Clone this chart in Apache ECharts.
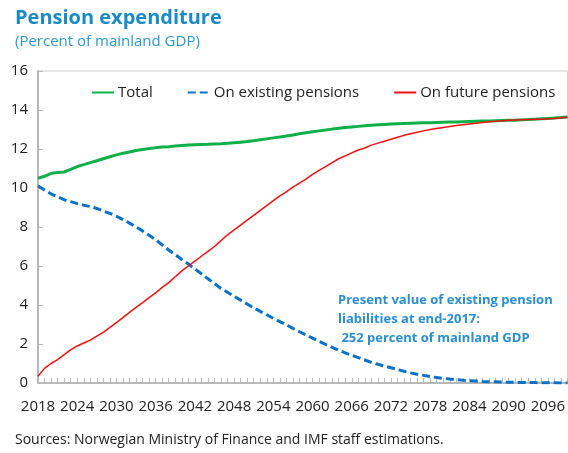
<!DOCTYPE html>
<html>
<head>
<meta charset="utf-8">
<script src="https://cdn.jsdelivr.net/npm/echarts@6/dist/echarts.min.js"></script>
<style>
  html, body { margin: 0; padding: 0; background: #fff; }
  #chart { width: 568px; height: 453px; }
</style>
</head>
<body>
<div id="chart"></div>
<script>
// 年份 2018-2099
const years = [];
for (let y = 2018; y <= 2099; y++) years.push(String(y));

// Total
const total = [
  10.5, 10.6, 10.75, 10.8, 10.82, 10.95, 11.1, 11.2, 11.3, 11.4,
  11.5, 11.6, 11.7, 11.78, 11.85, 11.92, 11.97, 12.02, 12.06, 12.1,
  12.12, 12.15, 12.18, 12.2, 12.22, 12.23, 12.24, 12.26, 12.27, 12.29,
  12.32, 12.35, 12.38, 12.42, 12.47, 12.52, 12.57, 12.62, 12.67, 12.72,
  12.78, 12.83, 12.88, 12.93, 12.97, 13.02, 13.06, 13.1, 13.13, 13.16,
  13.19, 13.22, 13.24, 13.26, 13.28, 13.3, 13.31, 13.32, 13.33, 13.34,
  13.35, 13.36, 13.37, 13.38, 13.39, 13.4, 13.41, 13.42, 13.43, 13.44,
  13.45, 13.46, 13.47, 13.48, 13.5, 13.51, 13.53, 13.55, 13.57, 13.59,
  13.61, 13.64
];

// On existing pensions
const existing = [
  10.1, 9.9, 9.7, 9.55, 9.4, 9.3, 9.2, 9.12, 9.05, 8.95,
  8.82, 8.7, 8.55, 8.38, 8.2, 8.0, 7.8, 7.58, 7.35, 7.08,
  6.82, 6.58, 6.33, 6.1, 5.85, 5.6, 5.35, 5.1, 4.85, 4.65,
  4.45, 4.25, 4.05, 3.85, 3.67, 3.5, 3.32, 3.15, 2.98, 2.8,
  2.63, 2.46, 2.3, 2.13, 1.98, 1.83, 1.68, 1.55, 1.42, 1.3,
  1.18, 1.06, 0.96, 0.87, 0.78, 0.69, 0.6, 0.52, 0.45, 0.39,
  0.33, 0.28, 0.24, 0.2, 0.17, 0.14, 0.12, 0.1, 0.08, 0.07,
  0.06, 0.05, 0.04, 0.03, 0.03, 0.02, 0.02, 0.01, 0.01, 0.01,
  0.0, 0.0
];

// On future pensions
const future = [
  0.35, 0.75, 1.0, 1.2, 1.45, 1.7, 1.9, 2.05, 2.2, 2.4,
  2.6, 2.85, 3.1, 3.35, 3.62, 3.88, 4.12, 4.38, 4.62, 4.9,
  5.15, 5.45, 5.75, 6.0, 6.25, 6.5, 6.75, 7.0, 7.3, 7.6,
  7.85, 8.1, 8.35, 8.6, 8.85, 9.1, 9.35, 9.6, 9.8, 10.05,
  10.25, 10.45, 10.7, 10.9, 11.1, 11.3, 11.5, 11.65, 11.8, 11.95,
  12.05, 12.2, 12.3, 12.4, 12.5, 12.6, 12.7, 12.78, 12.86, 12.93,
  13.0, 13.05, 13.1, 13.15, 13.2, 13.24, 13.28, 13.32, 13.36, 13.4,
  13.42, 13.45, 13.47, 13.49, 13.5, 13.51, 13.52, 13.53, 13.55, 13.57,
  13.6, 13.63
];

const font = '"Open Sans", "Noto Sans", sans-serif';

const myChart = echarts.init(document.getElementById('chart'), null, { renderer: 'canvas' });

myChart.setOption({
  animation: false,
  backgroundColor: '#fff',
  title: {
    text: 'Pension expenditure',
    subtext: '(Percent of mainland GDP)',
    left: 10,
    top: 3,
    itemGap: 6,
    textStyle: { fontFamily: font, fontSize: 20, fontWeight: 'bold', color: '#1a8ac4' },
    subtextStyle: { fontFamily: font, fontSize: 15, color: '#2a9ad2' }
  },
  legend: {
    top: 85,
    left: 91,
    width: 476,
    padding: 0,
    itemWidth: 22,
    itemHeight: 12,
    itemGap: 34,
    itemStyle: { opacity: 0 },
    textStyle: { fontFamily: font, fontSize: 15, color: '#222', padding: [0, 0, 0, -1] },
    data: ['Total', 'On existing pensions', 'On future pensions']
  },
  grid: {
    left: 38,
    right: 0,
    top: 71,
    bottom: 70,
    show: true,
    borderColor: '#d0d0d0',
    borderWidth: 1,
    containLabel: false
  },
  xAxis: {
    type: 'category',
    data: years,
    boundaryGap: false,
    axisLine: { lineStyle: { color: '#b8b8b8', width: 2 } },
    axisTick: { interval: 0, inside: true, length: 5, lineStyle: { color: '#b8b8b8' } },
    axisLabel: { interval: 5, fontFamily: font, fontSize: 15, color: '#222', margin: 16 },
    splitLine: { show: false }
  },
  yAxis: {
    type: 'value',
    min: 0,
    max: 16,
    interval: 2,
    axisLine: { show: true, lineStyle: { color: '#b8b8b8', width: 2 } },
    axisTick: { show: true, inside: true, length: 5, lineStyle: { color: '#b8b8b8' } },
    axisLabel: { fontFamily: font, fontSize: 15, color: '#222', margin: 10 },
    splitLine: { show: false }
  },
  series: [
    {
      name: 'Total',
      type: 'line',
      data: total,
      symbol: 'none',
      itemStyle: { color: '#0fb04a' },
      lineStyle: { color: '#0fb04a', width: 3 }
    },
    {
      name: 'On existing pensions',
      type: 'line',
      data: existing,
      symbol: 'none',
      itemStyle: { color: '#0a72c6' },
      lineStyle: { color: '#0a72c6', width: 3, type: [8, 4] }
    },
    {
      name: 'On future pensions',
      type: 'line',
      data: future,
      symbol: 'none',
      itemStyle: { color: '#ee1111' },
      lineStyle: { color: '#ee1111', width: 1.5 }
    }
  ],
  graphic: [
    {
      type: 'text',
      left: 338,
      top: 291,
      style: {
        text: 'Present value of existing pension\nliabilities at end-2017:\n 252 percent of mainland GDP',
        fontFamily: font,
        fontSize: 13,
        fontWeight: 'bold',
        lineHeight: 19,
        fill: '#2a8fd0'
      }
    },
    {
      type: 'text',
      left: 15,
      top: 433,
      style: {
        text: 'Sources: Norwegian Ministry of Finance and IMF staff estimations.',
        fontFamily: font,
        fontSize: 14,
        fill: '#222'
      }
    }
  ]
});
</script>
</body>
</html>
